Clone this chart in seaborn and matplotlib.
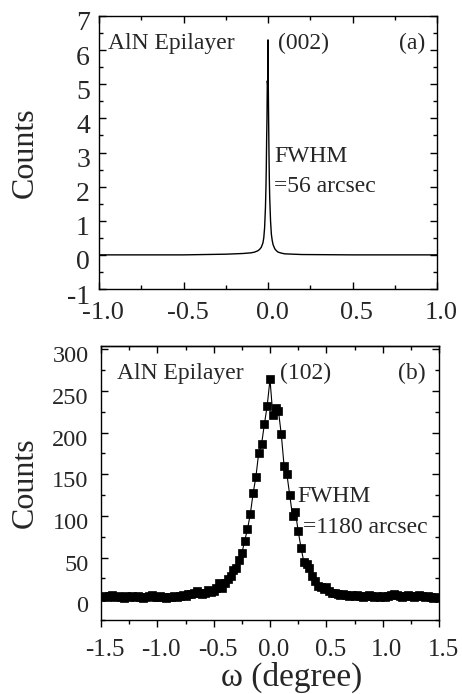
import numpy as np
import pandas as pd
import matplotlib
matplotlib.use("Agg")
import matplotlib.pyplot as plt
from matplotlib.ticker import MultipleLocator, FixedLocator
import matplotlib.transforms as mtransforms
import seaborn as sns

# ---- Panel (a): (002) rocking curve ----
omega_a = [-1.0, -0.5, -0.25, -0.15, -0.1, -0.08, -0.06, -0.05, -0.04, -0.03,
           -0.025, -0.02, -0.015, -0.012, -0.01, -0.008, -0.006, -0.004, -0.002, 0.0,
           0.002, 0.004, 0.006, 0.008, 0.01, 0.015, 0.02, 0.025, 0.03, 0.04,
           0.05, 0.06, 0.08, 0.1, 0.15, 0.2, 0.5, 1.0]
counts_a = [0.0, 0.0, 0.02, 0.04, 0.06, 0.08, 0.12, 0.16, 0.22, 0.35,
            0.5, 0.8, 1.4, 2.0, 2.6, 3.4, 4.0, 5.1, 5.0, 6.3,
            4.8, 3.8, 2.9, 2.2, 1.7, 1.0, 0.6, 0.42, 0.3, 0.18,
            0.12, 0.08, 0.05, 0.03, 0.02, 0.01, 0.0, 0.0]

# ---- Panel (b): (102) rocking curve ----
omega_b = [-1.5, -1.475, -1.45, -1.425, -1.4, -1.375, -1.35, -1.325, -1.3, -1.275,
           -1.25, -1.225, -1.2, -1.175, -1.15, -1.125, -1.1, -1.075, -1.05, -1.025,
           -1.0, -0.975, -0.95, -0.925, -0.9, -0.875, -0.85, -0.825, -0.8, -0.775,
           -0.75, -0.725, -0.7, -0.675, -0.65, -0.625, -0.6, -0.575, -0.55, -0.525,
           -0.5, -0.475, -0.45, -0.425, -0.4, -0.375, -0.35, -0.325, -0.3, -0.275,
           -0.25, -0.225, -0.2, -0.175, -0.15, -0.125, -0.1, -0.075, -0.05, -0.025,
           0.0, 0.025, 0.05, 0.075, 0.1, 0.125, 0.15, 0.175, 0.2, 0.225,
           0.25, 0.275, 0.3, 0.325, 0.35, 0.375, 0.4, 0.425, 0.45, 0.475,
           0.5, 0.525, 0.55, 0.575, 0.6, 0.625, 0.65, 0.675, 0.7, 0.725,
           0.75, 0.775, 0.8, 0.825, 0.85, 0.875, 0.9, 0.925, 0.95, 0.975,
           1.0, 1.025, 1.05, 1.075, 1.1, 1.125, 1.15, 1.175, 1.2, 1.225,
           1.25, 1.275, 1.3, 1.325, 1.35, 1.375, 1.4, 1.425, 1.45, 1.475, 1.5]
counts_b = [3, 4, 3, 4, 5, 3, 4, 3, 2, 4,
            3, 4, 3, 4, 3, 2, 3, 4, 5, 3,
            3, 4, 3, 2, 3, 3, 4, 3, 4, 5,
            4, 6, 6, 8, 10, 7, 6, 8, 11, 9,
            10, 13, 19, 14, 20, 24, 28, 35, 38, 47,
            55, 70, 84, 102, 127, 147, 176, 186, 210, 232,
            264, 221, 230, 226, 198, 160, 150, 125, 100, 105,
            82, 62, 45, 42, 37, 28, 22, 16, 15, 12,
            15, 10, 8, 7, 6, 5, 6, 5, 4, 5,
            4, 5, 4, 3, 4, 5, 4, 3, 4, 3,
            4, 3, 4, 5, 6, 5, 4, 3, 4, 5,
            4, 3, 4, 5, 4, 3, 4, 3, 2, 3, 2]

xticks_a = [-1.0, -0.5, 0.0, 0.5, 1.0]
yticks_a = [-1, 0, 1, 2, 3, 4, 5, 6, 7]
xticks_b = [-1.5, -1.0, -0.5, 0.0, 0.5, 1.0, 1.5]
yticks_b = [0, 50, 100, 150, 200, 250, 300]

df_a = pd.DataFrame({"omega": omega_a, "counts": counts_a})
df_b = pd.DataFrame({"omega": omega_b, "counts": counts_b})

sns.set_style("ticks")
plt.rcParams["font.family"] = ["Liberation Serif", "DejaVu Serif"]

W, H = 462, 694
fig = plt.figure(figsize=(W / 100, H / 100), dpi=100)
ax1 = fig.add_axes([99 / W, 1 - 289 / H, 338 / W, 273 / H])
ax2 = fig.add_axes([101 / W, 1 - 620 / H, 338 / W, 274 / H])

sns.lineplot(data=df_a, x="omega", y="counts", ax=ax1, color="black",
             linewidth=1.0, sort=False)
sns.lineplot(data=df_b, x="omega", y="counts", ax=ax2, color="black",
             linewidth=0.8, marker="s", markersize=5.2, markeredgecolor="black",
             markeredgewidth=0.5, sort=False)

for ax in (ax1, ax2):
    for s in ax.spines.values():
        s.set_linewidth(1.0)
        s.set_color("black")
    ax.set_xlabel("")
    ax.set_ylabel("")

# --- panel (a) axes ---
ax1.set_xlim(-1.0, 1.0)
ax1.set_ylim(-1, 7)
ax1.xaxis.set_major_locator(FixedLocator(xticks_a))
ax1.xaxis.set_minor_locator(MultipleLocator(0.25))
ax1.yaxis.set_major_locator(FixedLocator(yticks_a))
ax1.yaxis.set_minor_locator(MultipleLocator(0.5))
ax1.set_xticklabels([f"{v:.1f}" for v in xticks_a])
ax1.set_yticklabels([f"{v}" for v in yticks_a])
ax1.tick_params(which="both", direction="in", top=True, right=True,
                width=1.0, color="black")
ax1.tick_params(which="major", length=5)
ax1.tick_params(which="minor", length=3)
ax1.tick_params(axis="x", labelsize=19, pad=9.5)
ax1.tick_params(axis="y", labelsize=20, pad=6.5)
ax1.set_ylabel("Counts", fontsize=23)
ax1.yaxis.set_label_coords((40 - 99) / 338, 0.5)

# --- panel (b) axes ---
ax2.set_xlim(-1.5, 1.5)
ax2.set_ylim(-25, 304)
ax2.xaxis.set_major_locator(FixedLocator(xticks_b))
ax2.xaxis.set_minor_locator(MultipleLocator(0.25))
ax2.yaxis.set_major_locator(FixedLocator(yticks_b))
ax2.yaxis.set_minor_locator(MultipleLocator(25))
ax2.set_xticklabels([f"{v:.1f}" for v in xticks_b])
ax2.set_yticklabels([f"{v}" for v in yticks_b])
ax2.tick_params(axis="y", which="both", direction="in", right=True,
                width=1.0, color="black", labelsize=17.5, pad=9)
ax2.tick_params(axis="x", which="both", direction="out", top=False,
                width=1.0, color="black", labelsize=18, pad=9)
ax2.tick_params(which="major", length=5)
ax2.tick_params(which="minor", length=3)
sec = ax2.secondary_xaxis("top")
sec.xaxis.set_major_locator(FixedLocator(xticks_b))
sec.xaxis.set_minor_locator(MultipleLocator(0.25))
sec.tick_params(which="both", direction="in", labeltop=False, width=1.0, color="black")
sec.tick_params(which="major", length=5)
sec.tick_params(which="minor", length=3)
sec.spines["top"].set_linewidth(1.0)
ax2.set_ylabel("Counts", fontsize=23)
ax2.yaxis.set_label_coords((40 - 101) / 338, 0.5)
ax2.set_xlabel("\u03c9 (degree)", fontsize=24)
ax2.xaxis.set_label_coords((292 - 101) / 338, (620 - 677) / 274)
ax2.xaxis.label.set_va("center")

# small offsets of tick labels as in the reference
dx = mtransforms.ScaledTranslation(4 / 100, 0, fig.dpi_scale_trans)
dy = mtransforms.ScaledTranslation(0, -5 / 100, fig.dpi_scale_trans)
for ax in (ax1, ax2):
    for lbl in ax.get_xticklabels():
        lbl.set_transform(lbl.get_transform() + dx)
    for lbl in ax.get_yticklabels():
        lbl.set_transform(lbl.get_transform() + dy)

txt_fs = 17
ax1.text(0.027, 0.90, "AlN Epilayer", transform=ax1.transAxes, fontsize=txt_fs, va="center")
ax1.text(0.530, 0.90, "(002)", transform=ax1.transAxes, fontsize=txt_fs, va="center")
ax1.text(0.964, 0.90, "(a)", transform=ax1.transAxes, fontsize=txt_fs, va="center", ha="right")
ax1.text(0.518, 0.484, "FWHM", transform=ax1.transAxes, fontsize=txt_fs, va="center")
ax1.text(0.518, 0.374, "=56 arcsec", transform=ax1.transAxes, fontsize=txt_fs, va="center")

ax2.text(0.047, 0.898, "AlN Epilayer", transform=ax2.transAxes, fontsize=txt_fs, va="center")
ax2.text(0.530, 0.898, "(102)", transform=ax2.transAxes, fontsize=txt_fs, va="center")
ax2.text(0.959, 0.898, "(b)", transform=ax2.transAxes, fontsize=txt_fs, va="center", ha="right")
ax2.text(0.580, 0.449, "FWHM", transform=ax2.transAxes, fontsize=txt_fs, va="center")
ax2.text(0.598, 0.339, "=1180 arcsec", transform=ax2.transAxes, fontsize=txt_fs, va="center")

fig.savefig("out.png", dpi=100)
